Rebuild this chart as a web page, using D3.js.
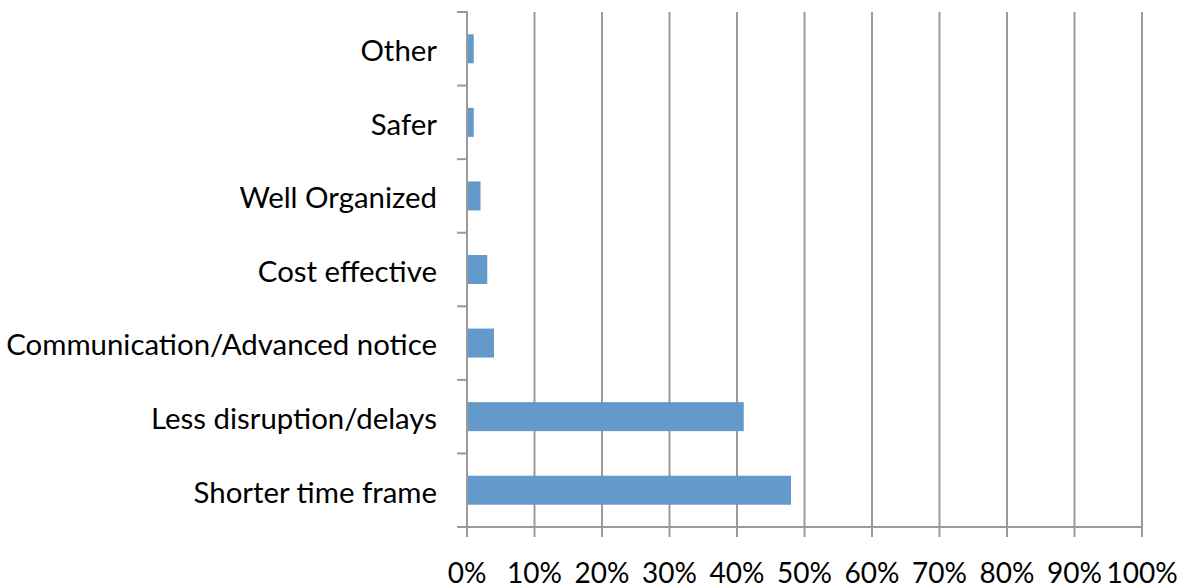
<!DOCTYPE html>
<html><head><meta charset="utf-8">
<script src="https://cdn.jsdelivr.net/npm/d3@7"></script>
<style>body{margin:0;background:#fff}svg{display:block}</style>
</head><body>
<svg id="c" width="1185" height="588"></svg>
<script>
const categories = ["Other","Safer","Well Organized","Cost effective","Communication/Advanced notice","Less disruption/delays","Shorter time frame"];
const values = [1,1,2,3,4,41,48];
const ticks = [0,10,20,30,40,50,60,70,80,90,100];

const svg = d3.select("#c");
const L=467, R=1142, T=12, B=527;
const x = d3.scaleLinear().domain([0,100]).range([L,R]);
const band = d3.scaleBand().domain(categories).range([T,B]);
const grey="#9a9a9a", font="Lato, 'Open Sans', sans-serif";

// gridlines
svg.append("g").selectAll("line").data(ticks.slice(1)).join("line")
  .attr("x1",d=>x(d)).attr("x2",d=>x(d)).attr("y1",T).attr("y2",B+10)
  .attr("stroke",grey).attr("stroke-width",2);
// bottom axis
svg.append("line").attr("x1",L).attr("x2",R+1).attr("y1",B).attr("y2",B).attr("stroke",grey).attr("stroke-width",2);
svg.append("line").attr("x1",L).attr("x2",L).attr("y1",B).attr("y2",B+10).attr("stroke",grey).attr("stroke-width",2);
// left axis
svg.append("line").attr("x1",L).attr("x2",L).attr("y1",T-1).attr("y2",B+1).attr("stroke",grey).attr("stroke-width",2);
const yt = categories.map(c=>band(c)).concat([B]);
svg.append("g").selectAll("line").data(yt).join("line")
  .attr("x1",L-10).attr("x2",L).attr("y1",d=>d).attr("y2",d=>d).attr("stroke",grey).attr("stroke-width",2);

// bars
svg.append("g").selectAll("rect").data(categories).join("rect")
  .attr("x",L+1).attr("y",d=>band(d)+band.bandwidth()/2-14.5)
  .attr("width",(d,i)=>x(values[i])-L-1).attr("height",29)
  .attr("fill","#6399cb");

// labels
svg.append("g").selectAll("text").data(categories).join("text")
  .attr("x",437).attr("y",d=>band(d)+band.bandwidth()/2+2).attr("dy","0.35em")
  .attr("text-anchor","end").attr("font-family",font).attr("font-size",29.4).attr("fill","#000")
  .text(d=>d);
svg.append("g").selectAll("text").data(ticks).join("text")
  .attr("x",d=>x(d)).attr("y",583).attr("text-anchor","middle")
  .attr("font-family",font).attr("font-size",28).attr("fill","#000")
  .text(d=>d+"%");
</script>
</body></html>
